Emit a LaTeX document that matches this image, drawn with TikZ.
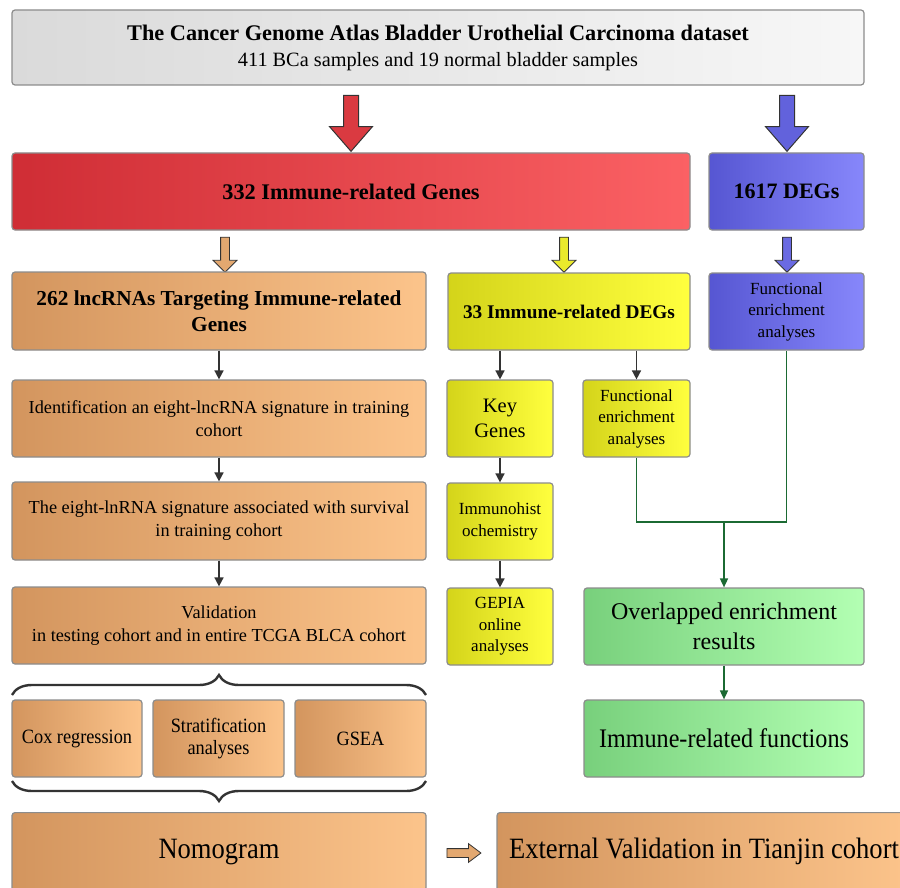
\documentclass[tikz,border=0pt]{standalone}
\usepackage{fontspec}
\setmainfont{Liberation Serif}
\newfontfamily\condfont{Liberation Serif}[FakeStretch=0.9]
\usetikzlibrary{arrows.meta,shapes.arrows,decorations.pathreplacing}

\definecolor{grayL}{HTML}{DADADA}\definecolor{grayR}{HTML}{F7F7F7}
\definecolor{redL}{HTML}{CF2D35}\definecolor{redR}{HTML}{FB6164}
\definecolor{bluL}{HTML}{5656D2}\definecolor{bluR}{HTML}{8787FB}
\definecolor{orgL}{HTML}{D3955E}\definecolor{orgR}{HTML}{FCC48B}
\definecolor{yelL}{HTML}{D4D41A}\definecolor{yelR}{HTML}{FFFF3E}
\definecolor{grnL}{HTML}{78D07C}\definecolor{grnR}{HTML}{B3FFB3}
\definecolor{edge}{HTML}{8C8C8C}
\definecolor{darkline}{HTML}{333333}
\definecolor{grnline}{HTML}{1B6A33}

\tikzset{
  box/.style={draw=edge, line width=1.2pt, rounded corners=3pt, align=center,
    inner sep=2pt, text=black},
  graybox/.style={box, left color=grayL, right color=grayR},
  redbox/.style={box, left color=redL, right color=redR},
  blubox/.style={box, left color=bluL, right color=bluR},
  orgbox/.style={box, left color=orgL, right color=orgR},
  yelbox/.style={box, left color=yelL, right color=yelR},
  grnbox/.style={box, left color=grnL, right color=grnR},
  bigarrow/.style={single arrow, draw=darkline, line width=1pt, rotate=-90,
    minimum height=56pt, inner sep=0pt, single arrow head extend=14pt,
    single arrow tip angle=82},
  smallarrow/.style={single arrow, draw=darkline, line width=0.8pt,
    minimum height=35pt, inner sep=0pt, single arrow head extend=7.5pt},
  flow/.style={-{Triangle[length=9pt,width=9pt]}, darkline, line width=1.6pt},
  gflow/.style={-{Triangle[length=9pt,width=8pt]}, grnline, line width=1.6pt},
  brc/.style={decorate, decoration={brace, amplitude=20pt}, darkline,
    line width=2.4pt},
}
\newcommand{\shaft}[1]{\rule{0pt}{#1}}

\begin{document}
\begin{tikzpicture}[x=1pt, y=1pt]
    \useasboundingbox (0,0) rectangle (900,-888);
    % top
    \node[graybox, minimum width=852pt, minimum height=75pt,
      font=\fontsize{20.3}{26}\selectfont] (tcga) at (438,-47.5)
      {{\fontsize{22.3}{26}\selectfont\bfseries The Cancer Genome Atlas Bladder Urothelial Carcinoma dataset}\\
       411 BCa samples and 19 normal bladder samples};
    \node[bigarrow, fill=redL!75!redR] (ar1) at (351,-119) {\shaft{14pt}};
    \node[bigarrow, fill=bluL!75!bluR] (ar2) at (787,-119) {\shaft{14pt}};
    \node[redbox, minimum width=678pt, minimum height=77pt,
      font=\fontsize{22.3}{26}\selectfont\bfseries] (irg) at (351,-191.5)
      {332 Immune-related Genes};
    \node[blubox, minimum width=155pt, minimum height=77pt,
      font=\fontsize{22}{26}\selectfont\bfseries] (degs) at (786.5,-191.5)
      {1617 DEGs};
    % second row
    \node[smallarrow, rotate=-90, fill=orgL!60!orgR] (ar3) at (225,-252.5) {\shaft{8pt}};
    \node[smallarrow, rotate=-90, fill=yelL!50!yelR] (ar4) at (564,-252.5) {\shaft{8pt}};
    \node[smallarrow, rotate=-90, fill=bluL!60!bluR] (ar5) at (787,-252.5) {\shaft{8pt}};
    \node[orgbox, minimum width=414pt, minimum height=78pt,
      font=\fontsize{21.3}{26}\selectfont\bfseries] (lnc) at (219,-311)
      {262 lncRNAs Targeting Immune-related\\Genes};
    \node[yelbox, minimum width=242pt, minimum height=77pt,
      font=\fontsize{19.3}{23}\selectfont\bfseries] (ideg) at (569,-311.5)
      {33 Immune-related DEGs};
    \node[blubox, minimum width=155pt, minimum height=77pt,
      font=\fontsize{17}{21.5}\selectfont] (bfun) at (786.5,-311.5)
      {Functional\\enrichment\\analyses};
    % lncRNA chain
    \node[orgbox, minimum width=414pt, minimum height=77pt,
      font=\fontsize{18.3}{23}\selectfont] (ident) at (219,-418.5)
      {Identification an eight-lncRNA signature in training\\cohort};
    \node[orgbox, minimum width=414pt, minimum height=78pt,
      font=\fontsize{18.3}{23}\selectfont] (surv) at (219,-521)
      {The eight-lnRNA signature associated with survival\\in training cohort};
    \node[orgbox, minimum width=414pt, minimum height=77pt,
      font=\fontsize{18.3}{23}\selectfont] (valid) at (219,-625.5)
      {Validation\\in testing cohort and in entire TCGA BLCA cohort};
    % DEG chain
    \node[yelbox, minimum width=106pt, minimum height=77pt,
      font=\fontsize{20.5}{25}\selectfont] (key) at (500,-418.5)
      {Key\\Genes};
    \node[yelbox, minimum width=106pt, minimum height=77pt,
      font=\fontsize{17}{22}\selectfont] (ihc) at (500,-521.5)
      {Immunohist\\ochemistry};
    \node[yelbox, minimum width=106pt, minimum height=77pt,
      font=\fontsize{17}{21.5}\selectfont] (gepia) at (500,-626.5)
      {GEPIA\\online\\analyses};
    \node[yelbox, minimum width=107pt, minimum height=77pt,
      font=\fontsize{17}{21.5}\selectfont] (yfun) at (636.5,-418.5)
      {Functional\\enrichment\\analyses};
    \node[grnbox, minimum width=280pt, minimum height=77pt,
      font=\fontsize{24}{30}\selectfont] (ovl) at (724,-626.5)
      {Overlapped enrichment\\results};
    \node[grnbox, minimum width=280pt, minimum height=77pt,
      font=\condfont\fontsize{26.8}{30}\selectfont] (imf) at (724,-738.5)
      {Immune-related functions};
    % analyses
    \node[orgbox, minimum width=130pt, minimum height=77pt,
      font=\condfont\fontsize{20.3}{22}\selectfont] (cox) at (77,-738.5)
      {Cox regression};
    \node[orgbox, minimum width=131pt, minimum height=77pt,
      font=\condfont\fontsize{20.3}{22}\selectfont] (strat) at (218.5,-738.5)
      {Stratification\\analyses};
    \node[orgbox, minimum width=131pt, minimum height=77pt,
      font=\condfont\fontsize{20.3}{22}\selectfont] (gsea) at (360.5,-738.5)
      {GSEA};
    \node[orgbox, minimum width=414pt, minimum height=78pt, anchor=north,
      font=\condfont\fontsize{29.5}{32}\selectfont] (nomo) at (219,-812)
      {Nomogram};
    \node[orgbox, minimum width=414pt, minimum height=78pt, anchor=north,
      font=\condfont\fontsize{29.5}{32}\selectfont] (ext) at (704,-812)
      {External Validation in Tianjin cohort};
    \node[smallarrow, fill=orgL!60!orgR, minimum height=34pt,
      single arrow head extend=5pt, single arrow tip angle=74] (ar6)
      at (461,-853) {\shaft{8pt}};
    % connectors
    \draw[flow] (lnc.south) -- (ident.north);
    \draw[flow] (ident.south) -- (surv.north);
    \draw[flow] (surv.south) -- (valid.north);
    \draw[flow] (key.south) -- (ihc.north);
    \draw[flow] (ihc.south) -- (gepia.north);
    \draw[flow] (ideg.south -| key.north) -- (key.north);
    \draw[flow] (ideg.south -| yfun.north) -- (yfun.north);
    \coordinate (join) at (724,-522);
    \draw[grnline, line width=1.6pt] (yfun.south) |- (join) -| (bfun.south);
    \draw[gflow] (join) -- (ovl.north);
    \draw[gflow] (ovl.south) -- (imf.north);
    % braces
    \draw[brc] (12,-695) -- (426,-695);
    \draw[brc] (426,-781) -- (12,-781);
\end{tikzpicture}
\end{document}
